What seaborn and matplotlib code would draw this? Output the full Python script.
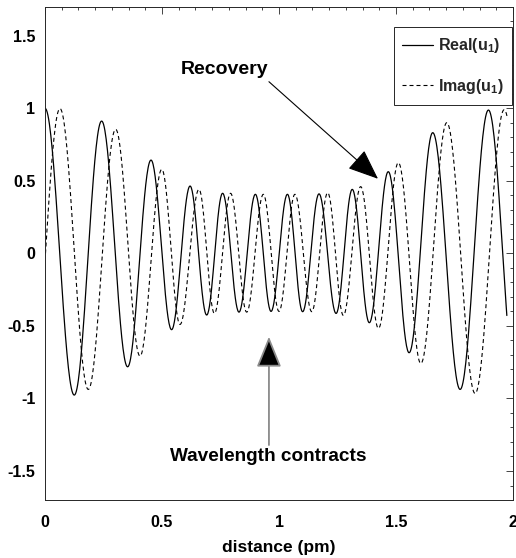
import numpy as np
import pandas as pd
import matplotlib
matplotlib.use("Agg")
import matplotlib.pyplot as plt
from matplotlib.lines import Line2D
from matplotlib.ticker import MultipleLocator, AutoMinorLocator
import seaborn as sns

# ── Data: extrema (distance in pm, amplitude) ────────────────────────────────
real_x = [0.000, 0.125, 0.242, 0.353, 0.453, 0.541, 0.620, 0.691, 0.759, 0.829,
          0.899, 0.966, 1.036, 1.101, 1.171, 1.244, 1.313, 1.386, 1.467, 1.556,
          1.657, 1.774, 1.895, 2.016]
real_y = [1.000, -0.977, 0.912, -0.782, 0.643, -0.526, 0.464, -0.425, 0.414, -0.405,
          0.407, -0.400, 0.407, -0.402, 0.410, -0.414, 0.441, -0.478, 0.563, -0.685,
          0.832, -0.938, 0.988, -0.960]

imag_x = [-0.060, 0.064, 0.185, 0.302, 0.406, 0.499, 0.577, 0.658, 0.724, 0.793,
          0.862, 0.933, 1.000, 1.068, 1.140, 1.208, 1.275, 1.349, 1.425, 1.510,
          1.606, 1.717, 1.838, 1.962, 2.090]
imag_y = [-1.000, 0.998, -0.938, 0.855, -0.708, 0.579, -0.490, 0.441, -0.414, 0.414,
          -0.405, 0.407, -0.400, 0.407, -0.402, 0.418, -0.428, 0.460, -0.517, 0.625,
          -0.759, 0.901, -0.966, 0.990, -0.950]

x_end = 1.975
labels = ["Real(u$_1$)", "Imag(u$_1$)"]


def trace(xs, ys, n=40):
    # smooth half-cosine segments between successive extrema
    out_x, out_y = [], []
    for (x0, y0), (x1, y1) in zip(zip(xs[:-1], ys[:-1]), zip(xs[1:], ys[1:])):
        t = np.linspace(0, 1, n, endpoint=False)
        out_x.append(x0 + t * (x1 - x0))
        out_y.append((y0 + y1) / 2 + (y0 - y1) / 2 * np.cos(np.pi * t))
    px, py = np.concatenate(out_x), np.concatenate(out_y)
    keep = (px >= 0) & (px <= x_end)
    return px[keep], py[keep]


rx, ry = trace(real_x, real_y)
ix, iy = trace(imag_x, imag_y)
df = pd.concat([
    pd.DataFrame({"distance": rx, "value": ry, "series": "real"}),
    pd.DataFrame({"distance": ix, "value": iy, "series": "imag"}),
])

# ── Style ────────────────────────────────────────────────────────────────────
sns.set_theme(style="white")
FONT = ["Liberation Sans Narrow", "Liberation Sans", "DejaVu Sans"]
plt.rcParams.update({
    "font.family": FONT,
    "font.weight": "bold",
    "mathtext.fontset": "custom",
    "mathtext.rm": "Liberation Sans:bold",
    "mathtext.it": "Liberation Sans:bold",
    "mathtext.bf": "Liberation Sans:bold",
    "axes.edgecolor": "#262626",
    "axes.linewidth": 0.7,
})

DASH = (0, (3.6, 2.7))

fig = plt.figure(figsize=(5.16, 5.58), dpi=100)
ax = fig.add_axes([0.0872, 0.1039, 0.9070, 0.8841])

sns.lineplot(data=df[df["series"] == "real"], x="distance", y="value",
             color="black", linewidth=0.9, sort=False, ax=ax)
sns.lineplot(data=df[df["series"] == "imag"], x="distance", y="value",
             color="black", linewidth=0.8, linestyle=DASH, sort=False, ax=ax)

ax.set_xlim(0, 2)
ax.set_ylim(-1.7, 1.7)
ax.xaxis.set_major_locator(MultipleLocator(0.5))
ax.yaxis.set_major_locator(MultipleLocator(0.5))
ax.xaxis.set_minor_locator(AutoMinorLocator(7))
ax.yaxis.set_minor_locator(AutoMinorLocator(5))
ax.xaxis.set_major_formatter(plt.FuncFormatter(lambda v, _: f"{v:g}"))
ax.yaxis.set_major_formatter(plt.FuncFormatter(lambda v, _: f"{v:g}"))
ax.tick_params(which="both", direction="in", top=True, right=True,
               colors="#262626", labelcolor="black", labelsize=11.5, width=0.6)
ax.tick_params(which="major", length=5)
ax.tick_params(axis="x", which="major", pad=11)
ax.tick_params(axis="y", which="major", pad=7)
ax.tick_params(which="minor", length=2.5)
for lab in ax.get_xticklabels() + ax.get_yticklabels():
    lab.set_fontweight("bold")
ax.set_xlabel("distance (pm)", fontsize=12.5, fontweight="bold", color="black",
              labelpad=7)
ax.set_ylabel("")

# ── Legend ───────────────────────────────────────────────────────────────────
handles = [
    Line2D([], [], color="black", linewidth=0.9),
    Line2D([], [], color="black", linewidth=0.8, linestyle=DASH),
]
leg = ax.legend(handles, labels, loc="upper right", bbox_to_anchor=(0.998, 0.958),
                borderaxespad=0, handlelength=1.9, handletextpad=0.3,
                labelspacing=1.35, borderpad=0.55, fancybox=False, framealpha=1,
                edgecolor="#262626", prop={"weight": "bold", "size": 11.5})
leg.get_frame().set_linewidth(0.7)

# ── Annotations ──────────────────────────────────────────────────────────────
ax.text(0.769, 1.266, "Recovery", fontsize=14, fontweight="bold",
        ha="center", va="center", color="black")
ax.annotate("", xy=(1.423, 0.514), xytext=(0.957, 1.183),
            arrowprops=dict(arrowstyle="-|>,head_length=1.6,head_width=0.65",
                            color="black", linewidth=0.8, shrinkA=0, shrinkB=0))

ax.text(0.956, -1.403, "Wavelength contracts", fontsize=13.7, fontweight="bold",
        ha="center", va="center", color="black")
ax.annotate("", xy=(0.957, -0.574), xytext=(0.957, -1.321),
            arrowprops=dict(arrowstyle="-|>,head_length=1.6,head_width=0.65",
                            edgecolor="#8a8a8a", facecolor="black", linewidth=1.3,
                            shrinkA=0, shrinkB=0))

fig.savefig("out.png", dpi=100)
